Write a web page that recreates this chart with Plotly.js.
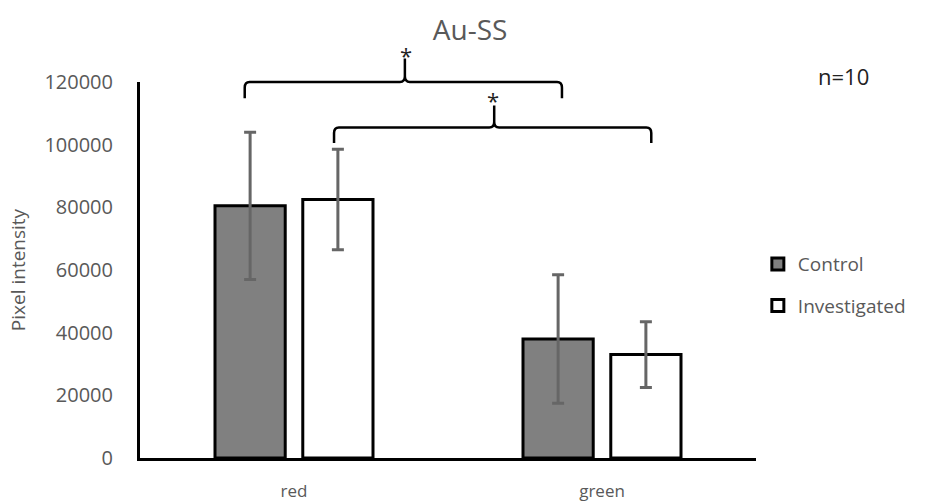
<!DOCTYPE html>
<html>
<head>
<meta charset="utf-8">
<script src="https://cdn.plot.ly/plotly-3.0.1.min.js"></script>
<style>html,body{margin:0;padding:0;background:#fff}#chart{width:944px;height:502px}</style>
</head>
<body>
<div id="chart"></div>
<script>
// ---- data ----
var categories = ["red", "green"];
var controlValues = [80500, 38000];
var controlErrors = [23500, 20500];
var investigatedValues = [82500, 33000];
var investigatedErrors = [16000, 10500];
var seriesNames = ["Control", "Investigated"];
var yTicks = [0, 20000, 40000, 60000, 80000, 100000, 120000];

// ---- layout helpers ----
var yMax = 120000;
var xMin = -0.5, xMax = 1.5;
function px(v) { return (v - xMin) / (xMax - xMin); }   // category-space -> paper
function py(v) { return v / yMax; }                       // value -> paper

function brace(x0, x1, xm, yLine, yEnd, ySpike) {
  var X0 = px(x0), X1 = px(x1), XM = px(xm);
  var YL = py(yLine), YE = py(yEnd), YS = py(ySpike);
  var dx = 0.008, dy = (YL - YE) * 0.35;
  return "M " + X0 + "," + YE +
    " L " + X0 + "," + (YL - dy) +
    " Q " + X0 + "," + YL + " " + (X0 + dx) + "," + YL +
    " L " + (XM - dx) + "," + YL +
    " Q " + XM + "," + YL + " " + XM + "," + (YL + dy) +
    " L " + XM + "," + YS +
    " M " + XM + "," + (YL + dy) +
    " Q " + XM + "," + YL + " " + (XM + dx) + "," + YL +
    " L " + (X1 - dx) + "," + YL +
    " Q " + X1 + "," + YL + " " + X1 + "," + (YL - dy) +
    " L " + X1 + "," + YE;
}

var gray = "#595959";
var fontFam = "'Open Sans', 'DejaVu Sans', sans-serif";

var traces = [
  {
    type: "bar", name: seriesNames[0], x: categories, y: controlValues, legendgroup: "g1",
    marker: { color: "#808080", line: { color: "#000", width: 3 } },
    error_y: { type: "data", array: controlErrors, visible: true, color: "#666666", thickness: 3, width: 6 }
  },
  {
    type: "bar", name: seriesNames[1], x: categories, y: investigatedValues, legendgroup: "g2",
    marker: { color: "#ffffff", line: { color: "#000", width: 3 } },
    error_y: { type: "data", array: investigatedErrors, visible: true, color: "#666666", thickness: 3, width: 6 }
  }
];

var layout = {
  width: 944, height: 502,
  margin: { l: 140, r: 188, t: 82, b: 44 },
  paper_bgcolor: "#fff", plot_bgcolor: "#fff",
  font: { family: fontFam, color: gray },
  title: { text: "Au-SS", x: 0.498, xref: "container", y: 0.94, yanchor: "middle", font: { size: 28, color: gray, family: fontFam } },
  barmode: "group", bargap: 0.43, bargroupgap: 0.2,
  showlegend: true,
  legend: { x: 1.003, y: 0.46, xanchor: "left", yanchor: "middle", font: { size: 19, color: gray }, itemwidth: 30, tracegroupgap: 14, traceorder: "grouped", bgcolor: "rgba(0,0,0,0)" },
  xaxis: {
    range: [xMin, xMax], showgrid: false, zeroline: false,
    showline: true, linecolor: "#000", linewidth: 3,
    ticks: "", tickfont: { size: 17, color: gray }, ticklabelstandoff: 16
  },
  yaxis: {
    range: [0, yMax], tickvals: yTicks, ticktext: yTicks.map(String),
    showgrid: false, zeroline: false, showline: true, linecolor: "#000", linewidth: 3,
    ticks: "", tickfont: { size: 20, color: gray }, ticklabelstandoff: 20,
    title: { text: "Pixel intensity", font: { size: 19, color: gray }, standoff: 14 }
  },
  shapes: [
    { type: "path", xref: "paper", yref: "paper", path: brace(-0.16, 0.87, 0.36, 120000, 114800, 127500), line: { color: "#000", width: 2.5 } },
    { type: "path", xref: "paper", yref: "paper", path: brace(0.13, 1.16, 0.65, 105500, 100500, 112500), line: { color: "#000", width: 2.5 } }
  ],
  annotations: [
    { xref: "paper", yref: "paper", x: px(0.365), y: py(128600), text: "*", showarrow: false, font: { size: 22, color: "#222" }, yanchor: "middle" },
    { xref: "paper", yref: "paper", x: px(0.645), y: py(114300), text: "*", showarrow: false, font: { size: 22, color: "#222" }, yanchor: "middle" },
    { xref: "paper", yref: "paper", x: 1.097, y: py(122000), text: "n=10", showarrow: false, xanchor: "left", yanchor: "middle", font: { size: 22, color: "#222" } }
  ]
};

Plotly.newPlot("chart", traces, layout, { displayModeBar: false, staticPlot: true });
</script>
</body>
</html>
